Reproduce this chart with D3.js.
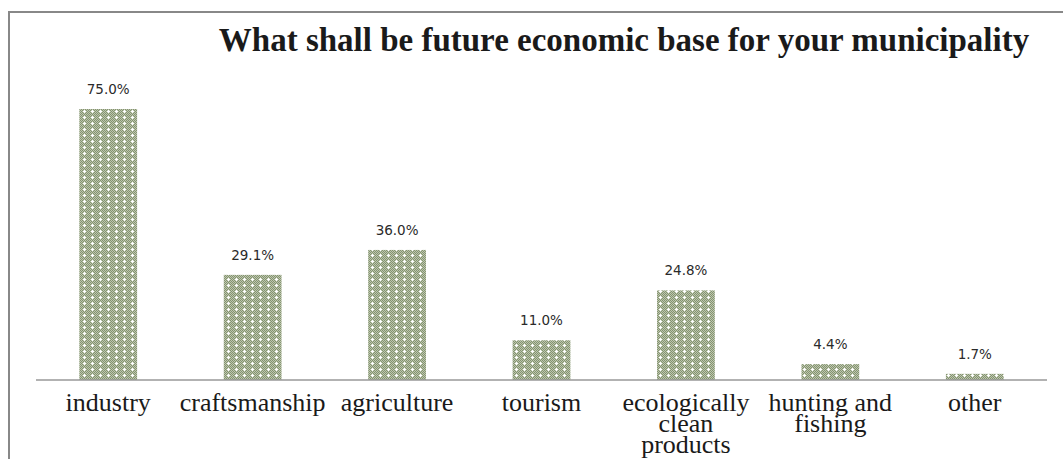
<!DOCTYPE html>
<html lang="en">
<head>
<meta charset="utf-8">
<style>
  body { margin: 0; background: #fff; }
  svg { display: block; }
  .val { font: 13.5px "DejaVu Sans", sans-serif; fill: #2a2a2a; }
  .cat { font: 26px "Liberation Serif", serif; fill: #1a1a1a; }
  .title { font: bold 33px "Liberation Serif", serif; fill: #1a1a1a; }
</style>
<title>Future economic base</title>
<script src="https://cdn.jsdelivr.net/npm/d3@7"></script>
</head>
<body>
<div id="chart"></div>
<script>
  var categories = ["industry", "craftsmanship", "agriculture", "tourism",
                    "ecologically clean products", "hunting and fishing", "other"];
  var catLines = [["industry"], ["craftsmanship"], ["agriculture"], ["tourism"],
                  ["ecologically", "clean", "products"], ["hunting and", "fishing"], ["other"]];
  var values = [75.0, 29.1, 36.0, 11.0, 24.8, 4.4, 1.7];
  var titleText = "What shall be future economic base for your municipality";

  var width = 1063, height = 459;

  var svg = d3.select("#chart").append("svg")
    .attr("width", width)
    .attr("height", height);

  // dotted fill like the office pattern
  var defs = svg.append("defs");
  var pat = defs.append("pattern")
    .attr("id", "dots")
    .attr("patternUnits", "userSpaceOnUse")
    .attr("width", 8).attr("height", 6);
  pat.append("rect").attr("width", 8).attr("height", 6).attr("fill", "#bdc6af");
  for (var i = 0; i < 8; i++) {
    for (var j = 0; j < 6; j++) {
      if ((i + j) % 2 === 0) {
        pat.append("rect").attr("x", i).attr("y", j).attr("width", 1).attr("height", 1).attr("fill", "#84936f");
      }
    }
  }
  pat.append("rect").attr("x", 3).attr("y", 3).attr("width", 3).attr("height", 1).attr("fill", "#fff");
  pat.append("rect").attr("x", 4).attr("y", 2).attr("width", 1).attr("height", 3).attr("fill", "#fff");

  // frame (top and left edge)
  svg.append("path")
    .attr("d", "M9,459V12H1063")
    .attr("fill", "none")
    .attr("stroke", "#888")
    .attr("stroke-width", 2);

  var x = d3.scaleBand()
    .domain(categories)
    .range([36, 1047])
    .paddingInner(0.6)
    .paddingOuter(0.3);

  var y = d3.scaleLinear()
    .domain([0, 75])
    .range([380, 109]);

  svg.append("text")
    .attr("class", "title")
    .attr("x", 624)
    .attr("y", 51)
    .attr("text-anchor", "middle")
    .text(titleText);

  svg.selectAll(".bar")
    .data(values)
    .enter().append("rect")
    .attr("class", "bar")
    .attr("x", function(d, i) { return x(categories[i]); })
    .attr("width", x.bandwidth())
    .attr("y", function(d) { return y(d); })
    .attr("height", function(d) { return y(0) - y(d); })
    .attr("fill", "url(#dots)");

  svg.selectAll(".val")
    .data(values)
    .enter().append("text")
    .attr("class", "val")
    .attr("x", function(d, i) { return x(categories[i]) + x.bandwidth() / 2; })
    .attr("y", function(d) { return y(d) - 15; })
    .attr("text-anchor", "middle")
    .text(function(d) { return d.toFixed(1) + "%"; });

  // baseline
  svg.append("line")
    .attr("x1", 36).attr("x2", 1047)
    .attr("y1", y(0)).attr("y2", y(0))
    .attr("stroke", "#999")
    .attr("stroke-width", 1.5);

  var cats = svg.selectAll(".cat")
    .data(catLines)
    .enter().append("text")
    .attr("class", "cat")
    .attr("text-anchor", "middle")
    .attr("x", function(d, i) { return x(categories[i]) + x.bandwidth() / 2; })
    .attr("y", 411);

  cats.selectAll("tspan")
    .data(function(d) { return d; })
    .enter().append("tspan")
    .attr("x", function() { return d3.select(this.parentNode).attr("x"); })
    .attr("dy", function(d, k) { return k === 0 ? 0 : 21; })
    .text(function(d) { return d; });
</script>
</body>
</html>
